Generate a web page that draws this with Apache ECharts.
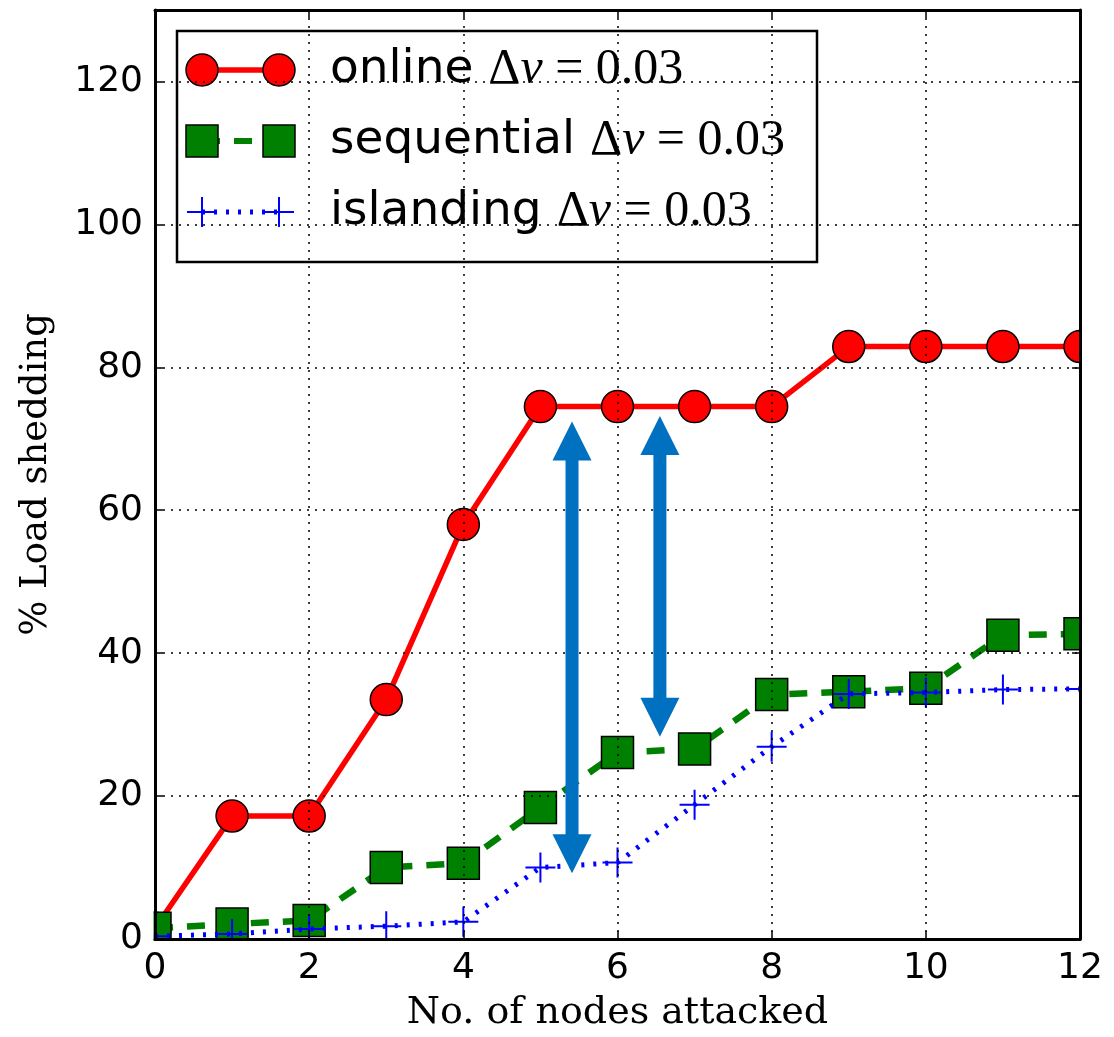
<!DOCTYPE html>
<html>
<head>
<meta charset="utf-8">
<script src="https://cdn.jsdelivr.net/npm/echarts@6/dist/echarts.min.js"></script>
<style>
html,body{margin:0;padding:0;background:#fff;}
#chart{width:1114px;height:1037px;}
</style>
</head>
<body>
<div id="chart"></div>
<script>
// ---- data ----
const nodesAttacked = [0, 1, 2, 3, 4, 5, 6, 7, 8, 9, 10, 11, 12];
const onlineShed = [1.5, 17.2, 17.2, 33.5, 58.0, 74.5, 74.5, 74.5, 74.5, 82.9, 82.9, 82.9, 82.9];
const sequentialShed = [1.5, 2.1, 2.6, 10.0, 10.6, 18.4, 26.1, 26.6, 34.2, 34.6, 35.1, 42.5, 42.7];
const islandingShed = [0.4, 0.7, 1.4, 1.8, 2.4, 10.0, 10.7, 18.8, 26.9, 34.3, 34.5, 34.9, 35.0];
const arrowX = [5.41, 6.55];
const arrowTop = [72.4, 73.2];
const arrowBottom = [9.2, 28.3];
const seriesNames = ['online', 'sequential', 'islanding'];

const pairs = (ys) => nodesAttacked.map((x, i) => [x, ys[i]]);
const arrowData = arrowX.map((x, i) => [x, arrowTop[i], arrowBottom[i]]);

const chart = echarts.init(document.getElementById('chart'), null, {renderer: 'canvas'});

const axisCommon = {
  z: 5,
  axisLine: {show: true, onZero: false, lineStyle: {color: '#000', width: 3}},
  axisTick: {show: true, inside: true, length: 8, lineStyle: {color: '#000', width: 1.5}},
};
const gridLine = {show: true, lineStyle: {color: '#000', width: 1.5, type: [2, 6]}};
const tickFont = {color: '#000', fontFamily: 'DejaVu Sans', fontSize: 36};

const plusPath = 'path://M14,0 H16 V14 H30 V16 H16 V30 H14 V16 H0 V14 H14 Z';

function legendRow(y, color, kind, name) {
  const els = [];
  const x1 = 202, x2 = 279;
  if (kind === 'circle') {
    els.push({type: 'line', shape: {x1, y1: y, x2, y2: y}, style: {stroke: color, lineWidth: 5.5}});
    [x1, x2].forEach(cx => els.push({type: 'circle', shape: {cx, cy: y, r: 16}, style: {fill: color, stroke: '#000', lineWidth: 1.5}}));
  } else if (kind === 'square') {
    els.push({type: 'line', shape: {x1, y1: y, x2, y2: y}, style: {stroke: color, lineWidth: 6, lineDash: [18, 14], lineDashOffset: 0}});
    [x1, x2].forEach(cx => els.push({type: 'rect', shape: {x: cx - 16, y: y - 16, width: 32, height: 32}, style: {fill: color, stroke: '#000', lineWidth: 1.5}}));
  } else {
    els.push({type: 'line', shape: {x1, y1: y, x2, y2: y}, style: {stroke: color, lineWidth: 5, lineDash: [3, 9]}});
    [x1, x2].forEach(cx => {
      els.push({type: 'line', shape: {x1: cx - 15, y1: y, x2: cx + 15, y2: y}, style: {stroke: color, lineWidth: 2}});
      els.push({type: 'line', shape: {x1: cx, y1: y - 15, x2: cx, y2: y + 15}, style: {stroke: color, lineWidth: 2}});
    });
  }
  els.push({
    type: 'text', x: 330, y: y,
    style: {
      text: '{t|' + name + ' }{m|\u0394}{v|\u03bd}{m| = 0.03}',
      verticalAlign: 'middle', align: 'left', fill: '#000',
      rich: {
        t: {fontFamily: 'DejaVu Sans', fontSize: 47, fill: '#000'},
        m: {fontFamily: 'Liberation Serif', fontSize: 50, fill: '#000'},
        v: {fontFamily: 'Liberation Serif', fontSize: 50, fontStyle: 'italic', fill: '#000'}
      }
    }
  });
  return els;
}

const legendEls = [
  {type: 'rect', shape: {x: 177, y: 31, width: 640, height: 231}, style: {fill: '#fff', stroke: '#000', lineWidth: 2.5}},
  ...legendRow(70, '#ff0000', 'circle', seriesNames[0]),
  ...legendRow(141, '#008000', 'square', seriesNames[1]),
  ...legendRow(212, '#0000ff', 'plus', seriesNames[2])
];

const option = {
  animation: false,
  backgroundColor: '#fff',
  grid: {left: 155, right: 34, top: 10, bottom: 98, containLabel: false},
  xAxis: [
    Object.assign({}, axisCommon, {
      type: 'value', position: 'bottom', min: 0, max: 12, interval: 2,
      axisLabel: Object.assign({margin: 12}, tickFont),
      splitLine: gridLine,
      name: 'No. of nodes attacked', nameLocation: 'middle', nameGap: 55,
      nameTextStyle: {color: '#000', fontFamily: 'DejaVu Serif', fontSize: 38}
    }),
    Object.assign({}, axisCommon, {
      type: 'value', position: 'top', min: 0, max: 12, interval: 2,
      axisLabel: {show: false}, splitLine: {show: false}
    })
  ],
  yAxis: [
    Object.assign({}, axisCommon, {
      type: 'value', position: 'left', min: 0, max: 130, interval: 20,
      axisLabel: Object.assign({margin: 12, showMaxLabel: false}, tickFont),
      splitLine: gridLine,
      name: '% Load shedding', nameLocation: 'middle', nameGap: 100,
      nameTextStyle: {color: '#000', fontFamily: 'DejaVu Serif', fontSize: 37}
    }),
    Object.assign({}, axisCommon, {
      type: 'value', position: 'right', min: 0, max: 130, interval: 20,
      axisLabel: {show: false}, splitLine: {show: false}
    })
  ],
  graphic: [
    {type: 'rect', z: 4, silent: true, shape: {x: 0, y: 0, width: 153.5, height: 1037}, style: {fill: '#fff'}},
    {type: 'rect', z: 4, silent: true, shape: {x: 1081.5, y: 0, width: 40, height: 1037}, style: {fill: '#fff'}},
    {type: 'rect', z: 4, silent: true, shape: {x: 0, y: 940.5, width: 1114, height: 100}, style: {fill: '#fff'}},
    {type: 'rect', z: 4, silent: true, shape: {x: 0, y: 0, width: 1114, height: 8.5}, style: {fill: '#fff'}},
    {type: 'group', z: 20, children: legendEls}
  ],
  series: [
    {
      name: seriesNames[0], type: 'line', data: pairs(onlineShed), z: 2,
      lineStyle: {color: '#ff0000', width: 5.5},
      symbol: 'circle', symbolSize: 32,
      itemStyle: {color: '#ff0000', borderColor: '#000', borderWidth: 1.5},
      clip: false
    },
    {
      name: seriesNames[1], type: 'line', data: pairs(sequentialShed), z: 3,
      lineStyle: {color: '#008000', width: 6.5, type: [18, 14]},
      symbol: 'rect', symbolSize: 32,
      itemStyle: {color: '#008000', borderColor: '#000', borderWidth: 1.5},
      clip: false
    },
    {
      name: seriesNames[2], type: 'line', data: pairs(islandingShed), z: 3.5,
      lineStyle: {color: '#0000ff', width: 5, type: [3, 9]},
      symbol: plusPath, symbolSize: 30,
      itemStyle: {color: '#0000ff'},
      clip: false
    },
    {
      name: 'arrows', type: 'custom', z: 10,
      data: arrowData,
      encode: {x: 0, y: [1, 2]},
      renderItem: function (params, api) {
        const p1 = api.coord([api.value(0), api.value(1)]);
        const p2 = api.coord([api.value(0), api.value(2)]);
        const cx = p1[0], hw = 19.5, hl = 39, sw = 6.5;
        const t = p1[1], b = p2[1];
        return {
          type: 'polygon',
          shape: {points: [
            [cx, t], [cx + hw, t + hl], [cx + sw, t + hl], [cx + sw, b - hl], [cx + hw, b - hl],
            [cx, b], [cx - hw, b - hl], [cx - sw, b - hl], [cx - sw, t + hl], [cx - hw, t + hl]
          ]},
          style: {fill: '#0070c0'}
        };
      }
    }
  ]
};
chart.setOption(option);
</script>
</body>
</html>
